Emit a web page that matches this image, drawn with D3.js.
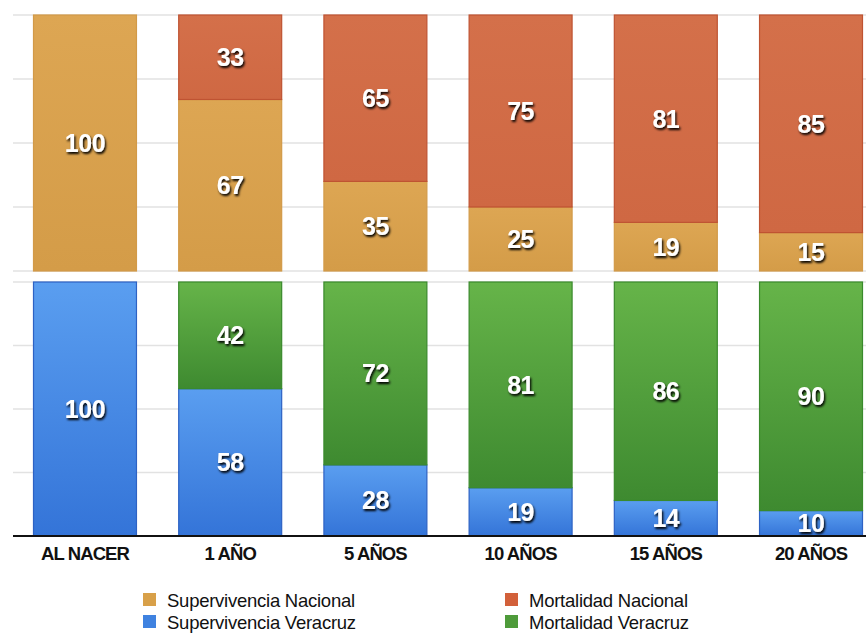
<!DOCTYPE html>
<html><head><meta charset="utf-8">
<script src="https://cdn.jsdelivr.net/npm/d3@7"></script>
<style>body{margin:0;background:#fff}svg{display:block}</style>
</head><body>
<svg id="c" width="866" height="633"></svg>
<script>
const categories = ["AL NACER","1 AÑO","5 AÑOS","10 AÑOS","15 AÑOS","20 AÑOS"];
const supervivenciaNacional = [100,67,35,25,19,15];
const mortalidadNacional    = [0,33,65,75,81,85];
const supervivenciaVeracruz = [100,58,28,19,14,10];
const mortalidadVeracruz    = [0,42,72,81,86,90];
const yTicks = [0,25,50,75,100];
const legendLabels = ["Supervivencia Nacional","Mortalidad Nacional","Supervivencia Veracruz","Mortalidad Veracruz"];

const svg = d3.select("#c");
const defs = svg.append("defs");
function grad(id, top, bot){
  const g = defs.append("linearGradient").attr("id",id).attr("x1",0).attr("y1",0).attr("x2",0).attr("y2",1);
  g.append("stop").attr("offset","0%").attr("stop-color",top);
  g.append("stop").attr("offset","100%").attr("stop-color",bot);
}
grad("gOr","#DDA653","#D49C48");
grad("gRd","#D4704A","#CF6843");
grad("gBl","#5A9EF0","#3474D8");
grad("gGr","#66B449","#3E8A30");
const f = defs.append("filter").attr("id","sh").attr("x","-20%").attr("y","-20%").attr("width","150%").attr("height","160%");
f.append("feDropShadow").attr("dx",1.3).attr("dy",2).attr("stdDeviation",1).attr("flood-color","#000").attr("flood-opacity",1);

const x = d3.scaleBand().domain(categories).range([33,863]).paddingInner(0.284).paddingOuter(0);
const yTop = d3.scaleLinear().domain([0,100]).range([271,15]);
const yBot = d3.scaleLinear().domain([0,100]).range([536,282]);

function panel(y, lower, upper, fillLo, fillUp, strokeLo, strokeUp, baseBlack){
  const g = svg.append("g");
  g.selectAll("line.grid").data(yTicks.filter(t=>!(baseBlack && t===0))).join("line")
    .attr("x1",13).attr("x2",866).attr("y1",d=>y(d)).attr("y2",d=>y(d))
    .attr("stroke","#e2e2e2").attr("stroke-width",1.5);
  const data = categories.map((c,i)=>({c, lo:lower[i], up:upper[i]}));
  g.selectAll("rect.lo").data(data).join("rect")
    .attr("x",d=>x(d.c)+0.5).attr("width",x.bandwidth()-1)
    .attr("y",d=>y(d.lo)).attr("height",d=>y(0)-y(d.lo))
    .attr("fill",fillLo).attr("stroke",strokeLo).attr("stroke-width",1.2);
  g.selectAll("rect.up").data(data.filter(d=>d.up>0)).join("rect")
    .attr("x",d=>x(d.c)+0.5).attr("width",x.bandwidth()-1)
    .attr("y",d=>y(d.lo+d.up)).attr("height",d=>y(d.lo)-y(d.lo+d.up))
    .attr("fill",fillUp).attr("stroke",strokeUp).attr("stroke-width",1.2);
  const lab = (sel)=>sel.attr("text-anchor","middle").attr("dominant-baseline","central")
    .attr("font-family","Liberation Sans, Arial, sans-serif").attr("font-weight","bold")
    .attr("font-size",25).attr("letter-spacing","-0.5px").attr("fill","#fff").attr("filter","url(#sh)");
  g.selectAll("text.lo").data(data).join("text")
    .attr("x",d=>x(d.c)+x.bandwidth()/2).attr("y",d=>(y(0)+y(d.lo))/2)
    .text(d=>d.lo).call(lab);
  g.selectAll("text.up").data(data.filter(d=>d.up>0)).join("text")
    .attr("x",d=>x(d.c)+x.bandwidth()/2).attr("y",d=>(y(d.lo)+y(d.lo+d.up))/2)
    .text(d=>d.up).call(lab);
  if(baseBlack){
    g.append("line").attr("x1",13).attr("x2",866).attr("y1",y(0)).attr("y2",y(0))
      .attr("stroke","#111").attr("stroke-width",2);
  }
}
panel(yTop, supervivenciaNacional, mortalidadNacional, "url(#gOr)", "url(#gRd)", "#D29A48", "#BF5332", false);
panel(yBot, supervivenciaVeracruz, mortalidadVeracruz, "url(#gBl)", "url(#gGr)", "#2D62C4", "#3A8A2C", true);

const xAxis = d3.axisBottom(x).tickSize(0).tickPadding(0);
const ax = svg.append("g").attr("transform","translate(0,547)").call(xAxis);
ax.select(".domain").remove();
ax.selectAll("text").attr("font-family","Liberation Sans, Arial, sans-serif").attr("font-weight","bold")
  .attr("font-size",18.5).attr("letter-spacing","-0.9px").attr("fill","#111");

const legColors = ["#D8A049","#D2603A","#3F82E0","#4E9B3A"];
const legPos = [[143,600],[505,600],[143,622],[505,622]];
const leg = svg.append("g");
legendLabels.forEach((t,i)=>{
  const [lx,ly] = legPos[i];
  leg.append("rect").attr("x",lx).attr("y",ly-7).attr("width",13).attr("height",13).attr("fill",legColors[i]);
  leg.append("text").attr("x",lx+24).attr("y",ly).attr("dominant-baseline","central")
    .attr("font-family","Liberation Sans, Arial, sans-serif").attr("font-size",18.5)
    .attr("letter-spacing","-0.25px").attr("fill","#111").text(t);
});
</script>
</body></html>
